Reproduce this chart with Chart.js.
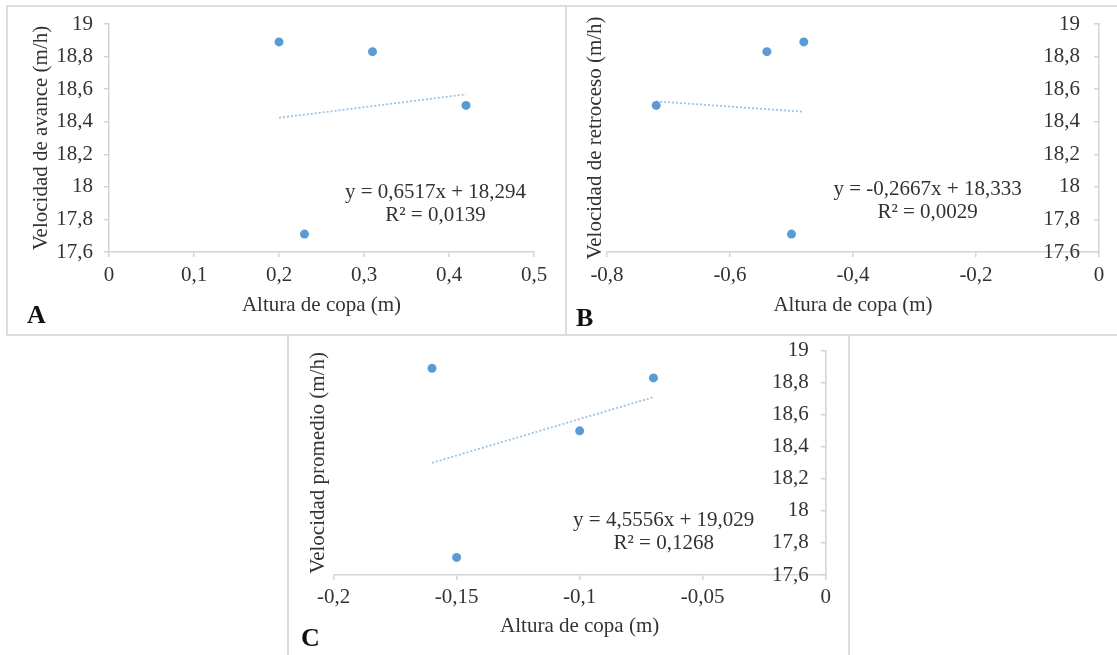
<!DOCTYPE html>
<html lang="es">
<head>
<meta charset="UTF-8">
<title>Velocidad vs altura de copa</title>
<script src="https://cdn.jsdelivr.net/npm/chart.js@4.4.0/dist/chart.umd.min.js"></script>
<style>
  body { margin: 0; background: #fff; }
  #page { position: relative; width: 1117px; height: 655px; overflow: hidden;
          font-family: "Liberation Serif", "Times New Roman", serif; color: #333; }
  .rule { position: absolute; background: #dcdcdc; }
  canvas { position: absolute; }
  .eq { position: absolute; font-size: 21px; line-height: 23px; text-align: center;
        white-space: nowrap; transform: translateX(-50%); }
  .tag { position: absolute; font-size: 26px; font-weight: bold; line-height: 26px; color: #111; }
</style>
</head>
<body>
<div id="page">
  <!-- frame lines around the three panels -->
  <div class="rule" style="left:6px;top:5px;width:1111px;height:2px"></div>
  <div class="rule" style="left:6px;top:5px;width:2px;height:330px"></div>
  <div class="rule" style="left:565px;top:5px;width:2px;height:330px"></div>
  <div class="rule" style="left:6px;top:334px;width:1111px;height:2px"></div>
  <div class="rule" style="left:287px;top:335px;width:2px;height:320px"></div>
  <div class="rule" style="left:848px;top:335px;width:2px;height:320px"></div>

  <canvas id="chartA" width="556" height="327" style="left:8px;top:7px"></canvas>
  <canvas id="chartB" width="550" height="327" style="left:567px;top:7px"></canvas>
  <canvas id="chartC" width="558" height="318" style="left:290px;top:337px"></canvas>

  <div class="eq" style="left:435.5px;top:180px">y = 0,6517x + 18,294<br>R² = 0,0139</div>
  <div class="eq" style="left:927.6px;top:177px">y = -0,2667x + 18,333<br>R² = 0,0029</div>
  <div class="eq" style="left:663.7px;top:508px">y = 4,5556x + 19,029<br>R² = 0,1268</div>

  <div class="tag" style="left:27px;top:302px">A</div>
  <div class="tag" style="left:576px;top:305px">B</div>
  <div class="tag" style="left:301px;top:625px">C</div>
</div>

<script>
// --- data ---
const alturaA = [0.2, 0.31, 0.42, 0.23];
const velAvance = [18.89, 18.83, 18.5, 17.71];

const alturaB = [-0.72, -0.54, -0.48, -0.5];
const velRetroceso = [18.5, 18.83, 18.89, 17.71];

const alturaC = [-0.16, -0.07, -0.1, -0.15];
const velPromedio = [18.89, 18.83, 18.5, 17.71];

// linear trend lines as printed on each panel
const fitA = { slope: 0.6517, intercept: 18.294 };
const fitB = { slope: -0.2667, intercept: 18.333 };
const fitC = { slope: 4.5556, intercept: 19.029 };

// axis ticks
const yTicks = [17.6, 17.8, 18, 18.2, 18.4, 18.6, 18.8, 19];
const yTickLabels = ['17,6', '17,8', '18', '18,2', '18,4', '18,6', '18,8', '19'];
const xTicksA = [0, 0.1, 0.2, 0.3, 0.4, 0.5];
const xTickLabelsA = ['0', '0,1', '0,2', '0,3', '0,4', '0,5'];
const xTicksB = [-0.8, -0.6, -0.4, -0.2, 0];
const xTickLabelsB = ['-0,8', '-0,6', '-0,4', '-0,2', '0'];
const xTicksC = [-0.2, -0.15, -0.1, -0.05, 0];
const xTickLabelsC = ['-0,2', '-0,15', '-0,1', '-0,05', '0'];

const AXIS = '#d4d4d4';
const TEXT = '#333';
const FONT = { family: '"Liberation Serif", "Times New Roman", serif', size: 21 };

function setTicks(values) {
    return (scale) => { scale.ticks = values.map((v) => ({ value: v })); };
}

// one scatter panel; box holds the layout numbers for that panel
function panel(id, xs, ys, fit, xTicks, xLabels, yTitle, box) {
    const lo = Math.min(...xs), hi = Math.max(...xs);
    const trend = [lo, hi].map((x) => ({ x: x, y: fit.slope * x + fit.intercept }));

    const scales = {
        x: {
            type: 'linear',
            min: xTicks[0],
            max: xTicks[xTicks.length - 1],
            afterBuildTicks: setTicks(xTicks),
            afterFit: (s) => { s.height = box.xHeight; s.paddingLeft = 0; s.paddingRight = 0; },
            grid: { drawOnChartArea: false, tickLength: 5, color: AXIS, lineWidth: 1.5 },
            border: { color: AXIS, width: 1.5 },
            ticks: { padding: box.xPad, color: TEXT, font: FONT, maxRotation: 0, autoSkip: false,
                     callback: (v, i) => xLabels[i] },
            title: { display: true, text: 'Altura de copa (m)', color: TEXT, font: FONT,
                     padding: { top: 0, bottom: box.xTitlePad } }
        },
        y: {
            type: 'linear',
            position: box.right ? 'right' : 'left',
            min: 17.6,
            max: 19,
            afterBuildTicks: setTicks(yTicks),
            afterFit: (s) => { s.width = box.yWidth; s.paddingTop = 0; s.paddingBottom = 0; },
            grid: { drawOnChartArea: false, tickLength: box.right ? -5 : 5, color: AXIS, lineWidth: 1.5 },
            border: { color: AXIS, width: 1.5 },
            ticks: { padding: box.yPad, mirror: !!box.right, color: TEXT, font: FONT,
                     callback: (v, i) => yTickLabels[i] },
            title: { display: !box.right, text: yTitle, color: TEXT, font: FONT,
                     padding: { top: box.yTitlePad, bottom: 0 } }
        }
    };

    // when the value axis sits on the right, its title stays on the left side
    if (box.right) {
        scales.yl = {
            type: 'linear',
            position: 'left',
            min: 17.6,
            max: 19,
            afterFit: (s) => { s.width = box.leftWidth; s.paddingTop = 0; s.paddingBottom = 0; },
            grid: { display: false },
            border: { display: false },
            ticks: { display: false },
            title: { display: true, text: yTitle, color: TEXT, font: FONT,
                     padding: { top: box.yTitlePad, bottom: 0 } }
        };
    }

    return new Chart(document.getElementById(id), {
        type: 'scatter',
        data: {
            datasets: [
                {
                    data: xs.map((x, i) => ({ x: x, y: ys[i] })),
                    backgroundColor: '#5b9bd5',
                    borderColor: '#5b9bd5',
                    borderWidth: 0,
                    pointRadius: 4.5
                },
                {
                    data: trend,
                    showLine: true,
                    pointRadius: 0,
                    borderColor: '#9dc3e6',
                    borderWidth: 1.8,
                    borderDash: [2, 2]
                }
            ]
        },
        options: {
            responsive: false,
            animation: false,
            events: [],
            layout: { padding: box.padding },
            plugins: { legend: { display: false }, tooltip: { enabled: false } },
            scales: scales
        }
    });
}

panel('chartA', alturaA, velAvance, fitA, xTicksA, xTickLabelsA, 'Velocidad de avance (m/h)', {
    padding: { left: 0, top: 17, right: 30, bottom: 12 },
    xHeight: 70, xPad: 6, xTitlePad: 4, yWidth: 101, yPad: 11, yTitlePad: 21
});

panel('chartB', alturaB, velRetroceso, fitB, xTicksB, xTickLabelsB, 'Velocidad de retroceso (m/h)', {
    right: true,
    padding: { left: 0, top: 17, right: 0, bottom: 12 },
    xHeight: 70, xPad: 6, xTitlePad: 4, yWidth: 18, yPad: -19, leftWidth: 40, yTitlePad: 16
});

panel('chartC', alturaC, velPromedio, fitC, xTicksC, xTickLabelsC, 'Velocidad promedio (m/h)', {
    right: true,
    padding: { left: 0, top: 13.7, right: 0, bottom: 12 },
    xHeight: 68, xPad: 5, xTitlePad: 4, yWidth: 22.3, yPad: -17, leftWidth: 43.6, yTitlePad: 16
});
</script>
</body>
</html>
